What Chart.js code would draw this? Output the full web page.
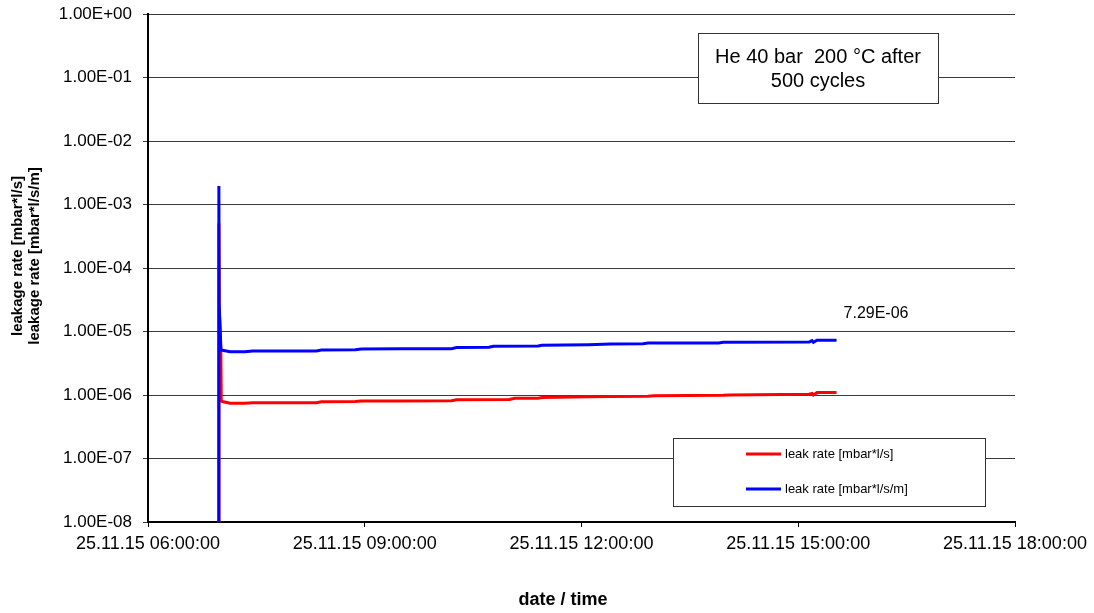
<!DOCTYPE html>
<html>
<head>
<meta charset="utf-8">
<script src="https://cdn.jsdelivr.net/npm/chart.js@4/dist/chart.umd.min.js"></script>
<style>
  html, body { margin: 0; padding: 0; background: #fff; }
  canvas { display: block; }
</style>
</head>
<body>
<canvas id="c" width="1094" height="613"></canvas>
<script>
// Measurement day and axis ticks
const dateLabel = '25.11.15';
const xTickHours = [6, 9, 12, 15, 18];
const yTickValues = [1e-8, 1e-7, 1e-6, 1e-5, 1e-4, 1e-3, 1e-2, 1e-1, 1];

// Leak rate [mbar*l/s] over time (hours of the day)
const redHours = [6.978, 6.981, 6.985, 7.008, 7.014, 7.03, 7.135, 7.343, 7.45, 8.33, 8.40, 8.87, 8.95, 9.49, 10.20, 10.27, 11.00, 11.08, 11.40, 11.45, 12.10, 12.40, 12.92, 13.00, 13.96, 14.05, 15.15, 15.19, 15.21, 15.26, 15.53];
const redValues = [1e-8, 5e-4, 2.4e-5, 5.0e-6, 8.1e-7, 7.9e-7, 7.4e-7, 7.4e-7, 7.55e-7, 7.55e-7, 7.8e-7, 7.9e-7, 8.05e-7, 8.05e-7, 8.1e-7, 8.4e-7, 8.5e-7, 8.85e-7, 8.9e-7, 9.1e-7, 9.4e-7, 9.5e-7, 9.6e-7, 9.7e-7, 9.9e-7, 1.0e-6, 1.03e-6, 1.06e-6, 1.0e-6, 1.09e-6, 1.09e-6];

// Leak rate per metre [mbar*l/s/m]
const blueHours = [6.978, 6.981, 6.985, 7.01, 7.03, 7.135, 7.343, 7.45, 8.33, 8.40, 8.87, 8.95, 9.49, 10.20, 10.27, 10.72, 10.78, 11.40, 11.45, 12.10, 12.40, 12.85, 12.92, 13.90, 13.96, 15.15, 15.19, 15.21, 15.26, 15.53];
const blueValues = [1e-8, 1.96e-3, 2.6e-5, 5.1e-6, 5.05e-6, 4.8e-6, 4.8e-6, 4.95e-6, 4.95e-6, 5.1e-6, 5.15e-6, 5.3e-6, 5.35e-6, 5.35e-6, 5.6e-6, 5.65e-6, 5.85e-6, 5.9e-6, 6.07e-6, 6.2e-6, 6.36e-6, 6.4e-6, 6.59e-6, 6.6e-6, 6.76e-6, 6.81e-6, 7.2e-6, 6.75e-6, 7.27e-6, 7.29e-6];

const seriesNames = ['leak rate [mbar*l/s]', 'leak rate [mbar*l/s/m]'];
const noteLines = ['He 40 bar  200 \u00B0C after', '500 cycles'];
const yTitleLines = ['leakage rate [mbar*l/s]', 'leakage rate [mbar*l/s/m]'];
const xTitle = 'date / time';

const FONT = '"Liberation Sans", Arial, sans-serif';

// 1.00E-06 style scientific notation
function sci(v) {
  let e = Math.floor(Math.log10(v) + 1e-9);
  let m = v / Math.pow(10, e);
  if (m >= 9.995) { m /= 10; e += 1; }
  return m.toFixed(2) + 'E' + (e < 0 ? '-' : '+') + String(Math.abs(e)).padStart(2, '0');
}
function clock(h) {
  return dateLabel + ' ' + String(h).padStart(2, '0') + ':00:00';
}
const toPoints = (xs, ys) => xs.map((x, i) => ({ x, y: ys[i] }));

const whiteBackground = {
  id: 'whiteBackground',
  beforeDraw(chart) {
    const ctx = chart.ctx;
    ctx.save();
    ctx.fillStyle = '#fff';
    ctx.fillRect(0, 0, chart.width, chart.height);
    ctx.restore();
  }
};

// Note box, legend box, end value label and axis titles
const overlays = {
  id: 'overlays',
  afterDatasetsDraw(chart) {
    const ctx = chart.ctx;
    const ca = chart.chartArea;
    ctx.save();

    // note box
    const nx = ca.left + 550, ny = ca.top + 19, nw = 240, nh = 70;
    ctx.fillStyle = '#fff';
    ctx.fillRect(nx, ny, nw, nh);
    ctx.strokeStyle = '#333';
    ctx.lineWidth = 1;
    ctx.strokeRect(nx + 0.5, ny + 0.5, nw, nh);
    ctx.fillStyle = '#000';
    ctx.font = '20px ' + FONT;
    ctx.textAlign = 'center';
    ctx.textBaseline = 'middle';
    ctx.fillText(noteLines[0], nx + nw / 2, ny + 24);
    ctx.fillText(noteLines[1], nx + nw / 2, ny + 48);

    // legend box
    const lx = ca.left + 525, ly = ca.top + 424, lw = 312, lh = 68;
    ctx.fillStyle = '#fff';
    ctx.fillRect(lx, ly, lw, lh);
    ctx.strokeStyle = '#333';
    ctx.strokeRect(lx + 0.5, ly + 0.5, lw, lh);
    ctx.font = '13px ' + FONT;
    ctx.textAlign = 'left';
    chart.data.datasets.forEach((ds, i) => {
      const y = ly + 16 + i * 35;
      ctx.strokeStyle = ds.borderColor;
      ctx.lineWidth = 3;
      ctx.beginPath();
      ctx.moveTo(lx + 73, y);
      ctx.lineTo(lx + 108, y);
      ctx.stroke();
      ctx.fillStyle = '#000';
      ctx.fillText(ds.label, lx + 112, y);
    });

    // value at the end of the per-metre series
    const meta = chart.getDatasetMeta(1);
    const last = meta.data[meta.data.length - 1];
    const v = blueValues[blueValues.length - 1];
    ctx.font = '16px ' + FONT;
    ctx.fillStyle = '#000';
    ctx.textAlign = 'left';
    ctx.fillText(sci(v), last.x + 7, last.y - 27);

    // axis titles
    ctx.font = 'bold 15px ' + FONT;
    ctx.textAlign = 'center';
    ctx.save();
    ctx.translate(18, 256);
    ctx.rotate(-Math.PI / 2);
    ctx.fillText(yTitleLines[0], 0, 0);
    ctx.fillText(yTitleLines[1], 0, 17);
    ctx.restore();
    ctx.font = 'bold 18px ' + FONT;
    ctx.fillText(xTitle, 563, 600);

    ctx.restore();
  }
};

new Chart(document.getElementById('c'), {
  type: 'line',
  data: {
    datasets: [
      {
        label: seriesNames[0],
        data: toPoints(redHours, redValues),
        borderColor: '#ff0000',
        borderWidth: 3,
        pointRadius: 0,
        tension: 0,
        order: 2
      },
      {
        label: seriesNames[1],
        data: toPoints(blueHours, blueValues),
        borderColor: '#0000ff',
        borderWidth: 3,
        pointRadius: 0,
        tension: 0,
        order: 1
      }
    ]
  },
  options: {
    responsive: false,
    animation: false,
    events: [],
    layout: { padding: { left: 0, right: 79, top: 14, bottom: 0 } },
    plugins: {
      legend: { display: false },
      tooltip: { enabled: false },
      title: { display: false }
    },
    scales: {
      x: {
        type: 'linear',
        min: 6,
        max: 18,
        afterBuildTicks(scale) { scale.ticks = xTickHours.map(v => ({ value: v })); },
        afterFit(scale) { scale.height = 91; },
        ticks: {
          autoSkip: false,
          maxRotation: 0,
          padding: 6,
          color: '#000',
          font: { family: FONT, size: 18 },
          callback: v => clock(v)
        },
        grid: { drawOnChartArea: false, drawTicks: true, tickLength: 5, color: '#000' },
        border: { color: '#000', width: 2 }
      },
      y: {
        type: 'logarithmic',
        min: 1e-8,
        max: 1,
        afterBuildTicks(scale) { scale.ticks = yTickValues.map(v => ({ value: v })); },
        afterFit(scale) {
          scale.width = 148;
          scale.paddingTop = 0;
          scale.paddingBottom = 0;
        },
        ticks: {
          autoSkip: false,
          padding: 11,
          color: '#000',
          font: { family: FONT, size: 17 },
          callback: v => sci(v)
        },
        grid: { color: '#3a3a3a', lineWidth: 1, tickLength: 5 },
        border: { color: '#000', width: 2 }
      }
    }
  },
  plugins: [whiteBackground, overlays]
});
</script>
</body>
</html>
